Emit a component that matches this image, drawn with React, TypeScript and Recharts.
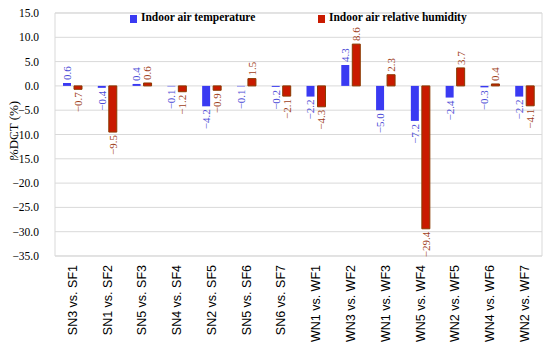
import React from "react";
import { BarChart, Bar, XAxis, YAxis, CartesianGrid, LabelList, ReferenceArea, Label } from "recharts";

const categories = [
  "SN3 vs. SF1", "SN1 vs. SF2", "SN5 vs. SF3", "SN4 vs. SF4", "SN2 vs. SF5", "SN5 vs. SF6", "SN6 vs. SF7",
  "WN1 vs. WF1", "WN3 vs. WF2", "WN1 vs. WF3", "WN5 vs. WF4", "WN2 vs. WF5", "WN4 vs. WF6", "WN2 vs. WF7",
];
const temperature = [0.6, -0.4, 0.4, -0.1, -4.2, -0.1, -0.2, -2.2, 4.3, -5.0, -7.2, -2.4, -0.3, -2.2];
const humidity = [-0.7, -9.5, 0.6, -1.2, -0.9, 1.5, -2.1, -4.3, 8.6, 2.3, -29.4, 3.7, 0.4, -4.1];
const yTicks = [15, 10, 5, 0, -5, -10, -15, -20, -25, -30, -35];
const seriesNames = ["Indoor air temperature", "Indoor air relative humidity"];

const data = categories.map((c, i) => ({ cat: c, temp: temperature[i], rh: humidity[i] }));

const fmt = (v: number) => (v < 0 ? "\u2212" : "") + Math.abs(v).toFixed(1);

const BLUE = "#3a3af2";
const RED = "#c91a00";
const SERIF = "'Liberation Serif', 'DejaVu Serif', serif";
const SANS = "'Liberation Sans', Arial, sans-serif";

const makeLabel = (color: string) => (props: any) => {
  const { x, y, width, height, value } = props;
  const cx = x + width / 2;
  const top = Math.min(y, y + height);
  const bottom = Math.max(y, y + height);
  const pos = value >= 0;
  const py = pos ? top - 3 : bottom + 3;
  return (
    <text
      transform={`translate(${cx},${py}) rotate(-90)`}
      textAnchor={pos ? "start" : "end"}
      dy="0.35em"
      fontSize={11}
      fontFamily={SERIF}
      fill={color}
    >
      {fmt(value)}
    </text>
  );
};

const XTick = (props: any) => {
  const { x, y, payload } = props;
  return (
    <text
      transform={`translate(${x},${y + 1}) rotate(-90)`}
      textAnchor="end"
      dy="0.35em"
      fontSize={12.5}
      fontFamily={SANS}
      fill="#000"
    >
      {payload.value}
    </text>
  );
};

const YLabel = (props: any) => {
  const vb = props.viewBox || {};
  const cy = (vb.y || 0) + (vb.height || 0) / 2;
  return (
    <text
      transform={`translate(13,${cy - 4}) rotate(-90)`}
      textAnchor="middle"
      dy="0.35em"
      fontSize={13}
      fontFamily={SERIF}
      fill="#000"
    >
      %DCT (%)
    </text>
  );
};

export default function App() {
  return (
    <div style={{ position: "absolute", left: 0, top: 0, width: 550, height: 347, background: "#fff" }}>
      <BarChart
        width={550}
        height={347}
        data={data}
        margin={{ top: 13, right: 8, bottom: 0, left: 0 }}
        barSize={8}
        barGap={3}
      >
        <CartesianGrid vertical={false} stroke="#d9d9d9" />
        <ReferenceArea y1={-35} y2={15} fill="none" stroke="#d9d9d9" strokeWidth={1} ifOverflow="visible" />
        <XAxis dataKey="cat" interval={0} axisLine={false} tickLine={false} tick={<XTick />} height={91} />
        <YAxis
          domain={[-35, 15]}
          ticks={yTicks}
          tickFormatter={fmt}
          axisLine={false}
          tickLine={false}
          width={55}
          tick={{ fontSize: 11.5, fontFamily: SERIF, fill: "#000" }}
          tickMargin={10}
        >
          <Label content={<YLabel />} />
        </YAxis>
        <Bar dataKey="temp" name={seriesNames[0]} fill={BLUE} isAnimationActive={false}>
          <LabelList dataKey="temp" content={makeLabel("#4a4ad6")} />
        </Bar>
        <Bar dataKey="rh" name={seriesNames[1]} fill={RED} stroke="#8a3a00" strokeWidth={1} isAnimationActive={false}>
          <LabelList dataKey="rh" content={makeLabel("#a0401a")} />
        </Bar>
      </BarChart>
      <div style={{ position: "absolute", left: 0, top: 11, width: 550, height: 20, fontFamily: SERIF, fontWeight: "bold", fontSize: 11.5 }}>
        <div style={{ position: "absolute", left: 130, top: 4, width: 7, height: 8, background: BLUE }} />
        <div style={{ position: "absolute", left: 141, top: 0, whiteSpace: "nowrap" }}>{seriesNames[0]}</div>
        <div style={{ position: "absolute", left: 318, top: 4, width: 7, height: 8, background: RED }} />
        <div style={{ position: "absolute", left: 329, top: 0, whiteSpace: "nowrap" }}>{seriesNames[1]}</div>
      </div>
    </div>
  );
}
